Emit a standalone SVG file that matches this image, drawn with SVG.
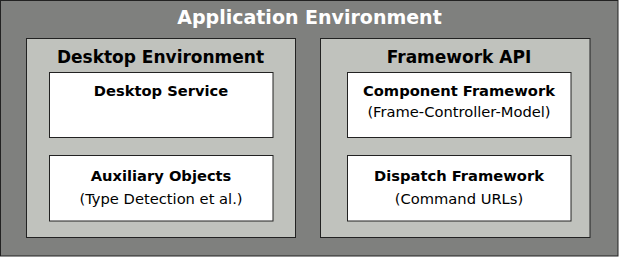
<svg xmlns="http://www.w3.org/2000/svg" width="619" height="257" viewBox="0 0 619 257">
<style>
rect{stroke:#222;stroke-width:1}
.outer{fill:#7f807e}
.frame{fill:#c0c2bd}
.box{fill:#ffffff}
text{font-family:"DejaVu Sans",sans-serif;text-anchor:middle;fill:#000}
.t0{font-size:19px;font-weight:bold;fill:#fff}
.t1{font-size:17px;font-weight:bold}
.t2{font-size:14.7px;font-weight:bold}
.t3{font-size:14.7px}
</style>
<g id="app-env">
<rect class="outer" x="0.5" y="0.5" width="617.5" height="255.5"/>
<text class="t0" x="309.5" y="24">Application Environment</text>
</g>
<g id="desktop-env">
<rect class="frame" x="26.5" y="38.5" width="269" height="199"/>
<text class="t1" x="160.5" y="63">Desktop Environment</text>
</g>
<g id="desktop-service">
<rect class="box" x="49.5" y="72.5" width="223.5" height="65"/>
<text class="t2" x="161" y="96">Desktop Service</text>
</g>
<g id="aux-objects">
<rect class="box" x="49.5" y="155.5" width="223.5" height="65.5"/>
<text class="t2" x="161" y="181">Auxiliary Objects</text>
<text class="t3" x="161" y="204">(Type Detection et al.)</text>
</g>
<g id="framework-api">
<rect class="frame" x="320.5" y="38.5" width="269.5" height="199"/>
<text class="t1" x="459" y="63">Framework API</text>
</g>
<g id="component-framework">
<rect class="box" x="347.5" y="72.5" width="223.5" height="65"/>
<text class="t2" x="459" y="96">Component Framework</text>
<text class="t3" x="459" y="117">(Frame-Controller-Model)</text>
</g>
<g id="dispatch-framework">
<rect class="box" x="347.5" y="155.5" width="223.5" height="65.5"/>
<text class="t2" x="459" y="181">Dispatch Framework</text>
<text class="t3" x="459" y="204">(Command URLs)</text>
</g>
<g id="connectors"></g>
</svg>
